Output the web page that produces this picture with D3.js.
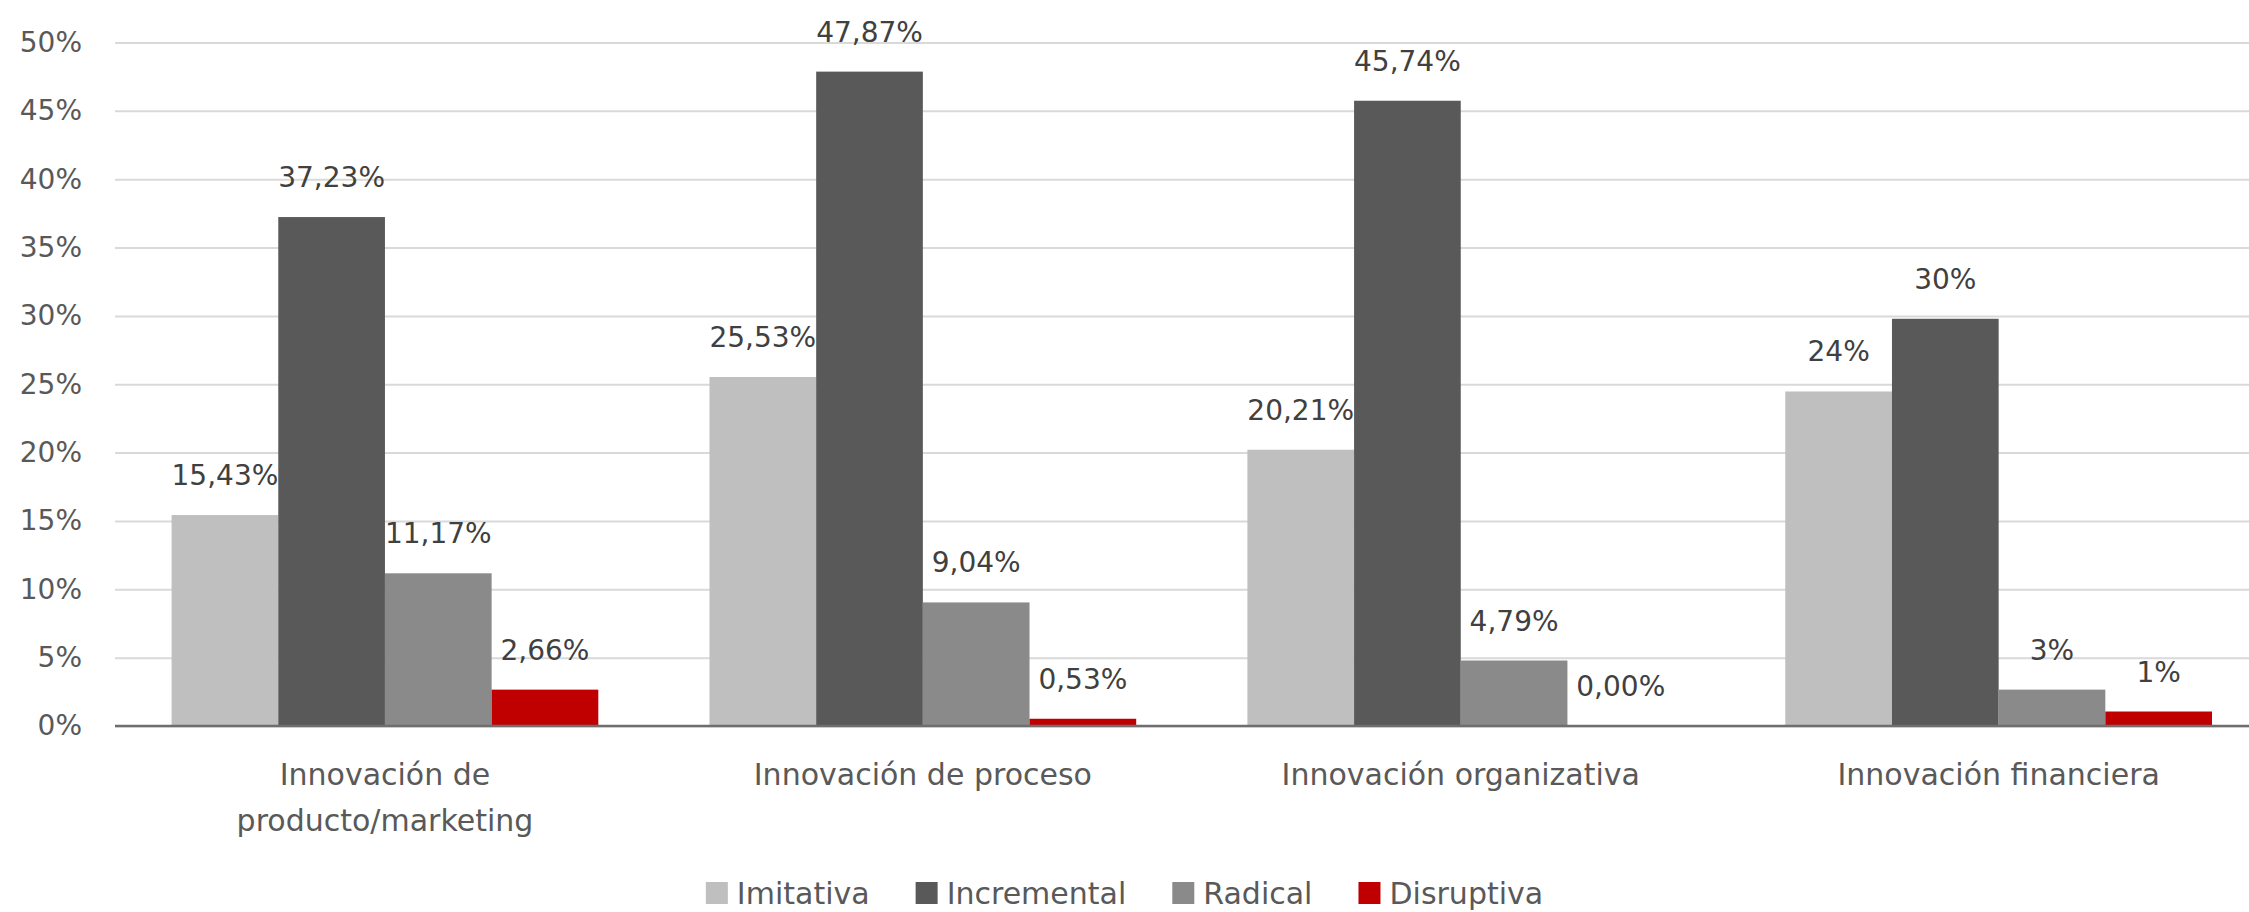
<!DOCTYPE html>
<html>
<head>
<meta charset="utf-8">
<script src="https://cdn.jsdelivr.net/npm/d3@7"></script>
<style>
  html, body { margin: 0; padding: 0; background: #ffffff; }
  svg { display: block; font-family: "DejaVu Sans", sans-serif; }
</style>
</head>
<body>
<svg id="chart" width="2249" height="912"></svg>
<script>
// ---- data ----
const categories = [
  ["Innovación de", "producto/marketing"],
  ["Innovación de proceso"],
  ["Innovación organizativa"],
  ["Innovación financiera"]
];
const seriesNames = ["Imitativa", "Incremental", "Radical", "Disruptiva"];
const seriesColors = ["#bfbfbf", "#595959", "#8a8a8a", "#c00000"];
const imitativa   = [15.43, 25.53, 20.21, 24.47];
const incremental = [37.23, 47.87, 45.74, 29.79];
const radical     = [11.17, 9.04, 4.79, 2.66];
const disruptiva  = [2.66, 0.53, 0.00, 1.06];
const labelsImitativa   = ["15,43%", "25,53%", "20,21%", "24%"];
const labelsIncremental = ["37,23%", "47,87%", "45,74%", "30%"];
const labelsRadical     = ["11,17%", "9,04%", "4,79%", "3%"];
const labelsDisruptiva  = ["2,66%", "0,53%", "0,00%", "1%"];
const yTicks = [0, 5, 10, 15, 20, 25, 30, 35, 40, 45, 50];

const seriesValues = [imitativa, incremental, radical, disruptiva];
const seriesLabels = [labelsImitativa, labelsIncremental, labelsRadical, labelsDisruptiva];

// ---- layout ----
const W = 2249, H = 912;
const gridLeft = 115;
const plotLeft = 116, plotRight = 2267.6;
const yBase = 726, yTop = 42.5;

const svg = d3.select("#chart");

const catIdx = categories.map((d, i) => i);
const x0 = d3.scaleBand().domain(catIdx).range([plotLeft, plotRight])
  .paddingInner(0.2067).paddingOuter(0.10335);
const x1 = d3.scaleBand().domain(seriesNames).range([0, x0.bandwidth()]);
const y = d3.scaleLinear().domain([0, 50]).range([yBase, yTop]);

// y axis with gridlines
const yAxis = d3.axisLeft(y)
  .tickValues(yTicks)
  .tickFormat(d => d + "%")
  .tickSizeInner(-(W - gridLeft))
  .tickSizeOuter(0)
  .tickPadding(33);

const gy = svg.append("g")
  .attr("transform", `translate(${gridLeft},0)`)
  .call(yAxis);
gy.select(".domain").remove();
gy.selectAll(".tick line").attr("stroke", "#d9d9d9").attr("stroke-width", 2);
gy.selectAll(".tick text")
  .attr("fill", "#595959")
  .style("font-size", "28px")
  .style("font-family", "'DejaVu Sans', sans-serif");

// bars and labels, series in order
seriesNames.forEach((name, si) => {
  const g = svg.append("g");
  g.selectAll("rect")
    .data(seriesValues[si])
    .join("rect")
    .attr("x", (d, i) => x0(i) + x1(name))
    .attr("width", x1.bandwidth())
    .attr("y", d => y(d))
    .attr("height", d => y(0) - y(d))
    .attr("fill", seriesColors[si]);
  g.selectAll("text")
    .data(seriesValues[si])
    .join("text")
    .attr("x", (d, i) => x0(i) + x1(name) + x1.bandwidth() / 2)
    .attr("y", d => y(d) - 30)
    .attr("text-anchor", "middle")
    .attr("fill", "#404040")
    .style("font-size", "28px")
    .text((d, i) => seriesLabels[si][i]);
});

// baseline
svg.append("line")
  .attr("x1", gridLeft).attr("x2", W)
  .attr("y1", y(0)).attr("y2", y(0))
  .attr("stroke", "#6e6e6e").attr("stroke-width", 2.5);

// x axis labels
const xAxis = d3.axisBottom(x0).tickSize(0).tickFormat(() => "");
const gx = svg.append("g")
  .attr("transform", `translate(0,${yBase})`)
  .call(xAxis);
gx.select(".domain").remove();
gx.selectAll(".tick text").remove();
gx.selectAll(".tick").each(function(d) {
  const t = d3.select(this).append("text")
    .attr("text-anchor", "middle")
    .attr("fill", "#595959")
    .style("font-size", "30px")
    .style("font-family", "'DejaVu Sans', sans-serif");
  categories[d].forEach((line, li) => {
    t.append("tspan").attr("x", 0).attr("y", 59 + li * 46).text(line);
  });
});

// legend
const legend = svg.append("g");
const sq = 22, gapText = 9, gapItem = 46;
const items = legend.selectAll("g").data(seriesNames).join("g");
items.append("rect")
  .attr("width", sq).attr("height", sq)
  .attr("y", 882)
  .attr("fill", (d, i) => seriesColors[i]);
items.append("text")
  .attr("x", sq + gapText)
  .attr("y", 904)
  .attr("fill", "#595959")
  .style("font-size", "30px")
  .text(d => d);
let widths = [];
items.each(function() {
  widths.push(sq + gapText + d3.select(this).select("text").node().getComputedTextLength());
});
const total = d3.sum(widths) + gapItem * (widths.length - 1);
let cx = W / 2 - total / 2;
items.each(function(d, i) {
  d3.select(this).attr("transform", `translate(${cx},0)`);
  cx += widths[i] + gapItem;
});
</script>
</body>
</html>
